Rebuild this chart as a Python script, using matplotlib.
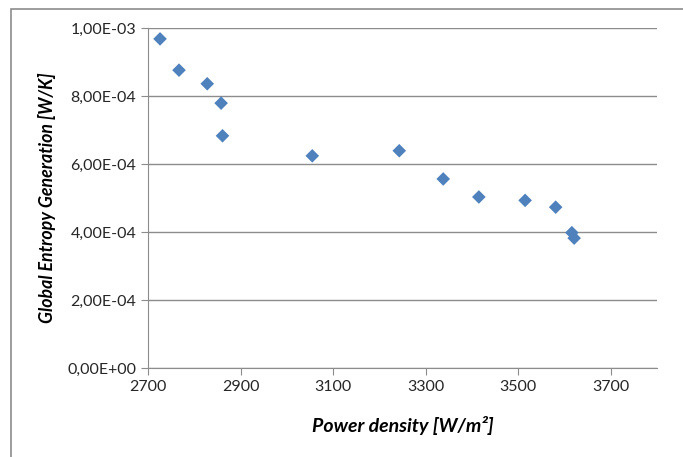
import matplotlib
matplotlib.use("Agg")
import matplotlib.pyplot as plt
from matplotlib.ticker import FuncFormatter
from matplotlib.patches import Rectangle

# data
power_density = [2726, 2767, 2828, 2858, 2861, 3055, 3243, 3338, 3415, 3515, 3581, 3616, 3621]
entropy_gen = [9.68e-4, 8.76e-4, 8.36e-4, 7.79e-4, 6.83e-4, 6.24e-4, 6.39e-4,
               5.56e-4, 5.03e-4, 4.93e-4, 4.73e-4, 3.98e-4, 3.82e-4]
x_ticks = [2700, 2900, 3100, 3300, 3500, 3700]
y_ticks = [0, 2e-4, 4e-4, 6e-4, 8e-4, 1e-3]

plt.rcParams['font.family'] = ['Lato', 'DejaVu Sans']

fig = plt.figure(figsize=(6.83, 4.57), dpi=100)
ax = fig.add_axes([148/683, 1-368/457, (657-148)/683, (368-28)/457])

# chart area frame
fig.patches.append(Rectangle((11/683, -0.2), 1.2, 1.2 - 9/457,
                             transform=fig.transFigure, fill=False,
                             edgecolor='#8c8c8c', linewidth=1.2))

ax.scatter(power_density, entropy_gen, marker='D', s=48, color='#4F81BD',
           edgecolors='none', zorder=3)

ax.set_xlim(2700, 3800)
ax.set_ylim(0, 1e-3)
ax.set_xticks(x_ticks)
ax.set_yticks(y_ticks)
ax.yaxis.set_major_formatter(FuncFormatter(lambda v, p: f"{v:.2E}".replace('.', ',')))
ax.grid(axis='y', color='#8c8c8c', linewidth=1)
ax.set_axisbelow(True)

for s in ['top', 'right']:
    ax.spines[s].set_visible(False)
for s in ['left', 'bottom']:
    ax.spines[s].set_color('#8c8c8c')
ax.tick_params(colors='#8c8c8c', labelcolor='#262626', labelsize=11.5, length=5, direction='out')

ax.set_xlabel('Power density [W/m²]', fontsize=14, fontweight='bold', style='italic', labelpad=16)
ax.set_ylabel('Global Entropy Generation [W/K]', fontsize=12.8, fontweight='bold', style='italic', labelpad=8)

fig.savefig('out.png', dpi=100)
